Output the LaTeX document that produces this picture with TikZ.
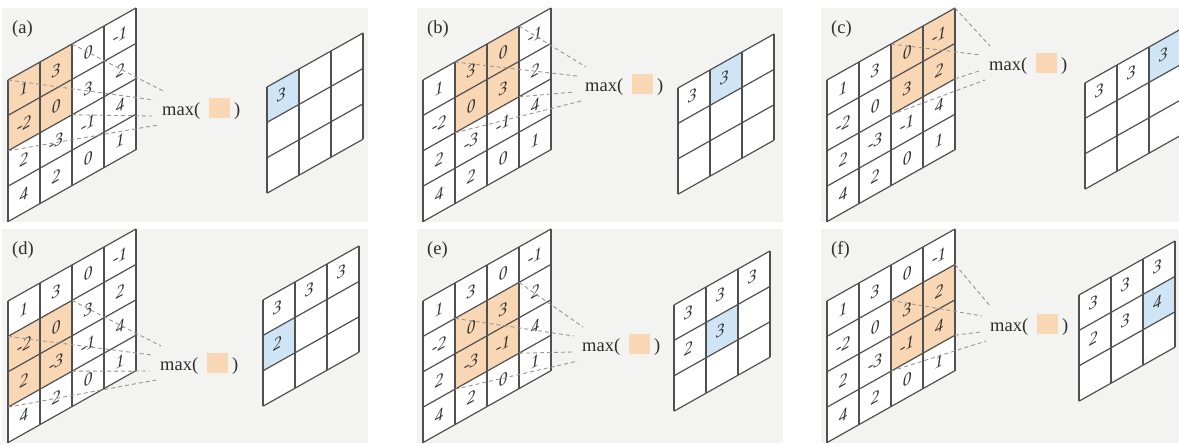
\documentclass[tikz,border=0pt]{standalone}
\usepackage{fontspec}
\setmainfont{Liberation Serif}
\usepackage{tikz}

\definecolor{panelgray}{RGB}{243,243,242}
\definecolor{linegray}{RGB}{80,80,80}
\definecolor{dashgray}{RGB}{150,150,150}
\definecolor{poolorange}{RGB}{250,215,180}
\definecolor{poolblue}{RGB}{207,229,246}
\definecolor{textgray}{RGB}{45,45,45}

\def\cellw{32}
\def\cellh{35.4}
\def\gridslant{0.5625}

\begin{document}
\begin{tikzpicture}[x=1pt, y=-1pt,
  grid line/.style={draw=linegray, line width=1.2pt},
  num/.style={font=\fontsize{17}{17}\selectfont\itshape, text=textgray, inner sep=0pt},
  pool line/.style={draw=dashgray, dash pattern=on 4pt off 3pt, line width=0.9pt},
  panel label/.style={font=\fontsize{18.5}{20}\selectfont, text=textgray, inner sep=0pt}]
\useasboundingbox (0,0) rectangle (1179,445);

% one panel per step of the 2x2 window
\foreach \n/\lab/\gx/\gy/\ox/\oy/\mx/\my in {
    0/a/8/80/267/87/162/108,
    1/b/423/80/678/88/585/84,
    2/c/827/80/1085/83/989/63,
    3/d/8/301/263/300/160/363,
    4/e/423/301/674/305/582/344,
    5/f/827/301/1079/295/990/324}
{
  \pgfmathtruncatemacro\wr{\n/3}
  \pgfmathtruncatemacro\wc{mod(\n,3)}

  \fill[panelgray] (\gx-6,\gy-72) rectangle (\gx+360,\gy+142);
  \node[panel label, anchor=west] (lab\lab) at (\gx+4,\gy-51) {(\lab)};

  % input map
  \begin{scope}[shift={(\gx,\gy)}, yslant=\gridslant, transform shape]
    \fill[white] (0,0) rectangle ({4*\cellw},{4*\cellh});
    \fill[poolorange] ({\wc*\cellw},{\wr*\cellh}) rectangle ({(\wc+2)*\cellw},{(\wr+2)*\cellh});
    \foreach \i in {0,...,4} {
      \draw[grid line] ({\i*\cellw},0) -- ({\i*\cellw},{4*\cellh});
      \draw[grid line] (0,{\i*\cellh}) -- ({4*\cellw},{\i*\cellh});
    }
    \foreach \row [count=\r from 0] in {{1,3,0,-1},{-2,0,3,2},{2,-3,-1,4},{4,2,0,1}}
      \foreach \v [count=\c from 0] in \row
        \node[num] (in\lab-\r-\c) at ({(\c+0.5)*\cellw},{(\r+0.5)*\cellh}) {\v};
    \coordinate (wtl\lab) at ({\wc*\cellw},{\wr*\cellh});
    \coordinate (wtr\lab) at ({(\wc+2)*\cellw},{\wr*\cellh});
    \coordinate (wbl\lab) at ({\wc*\cellw},{(\wr+2)*\cellh});
    \coordinate (wbr\lab) at ({(\wc+2)*\cellw},{(\wr+2)*\cellh});
  \end{scope}

  % max( ) and the lines into it
  \node[panel label, anchor=base west] (max\lab) at (\mx,\my+7)
    {max(\hspace{9pt}\textcolor{poolorange}{\rule[-3pt]{21pt}{20pt}}\hspace{4pt})};
  \coordinate (etr\lab) at (\mx+1,\my-17);
  \coordinate (etl\lab) at (\mx-8,\my-8);
  \coordinate (ebr\lab) at (\mx-10,\my+8);
  \coordinate (ebl\lab) at (\mx-4,\my+17);
  \draw[pool line] (wtr\lab) -- (etr\lab);
  \draw[pool line] (wtl\lab) -- (etl\lab);
  \draw[pool line] (wbr\lab) -- (ebr\lab);
  \draw[pool line] (wbl\lab) -- (ebl\lab);

  % output map
  \begin{scope}[shift={(\ox,\oy)}, yslant=\gridslant, transform shape]
    \fill[white] (0,0) rectangle ({3*\cellw},{3*\cellh});
    \foreach \v [count=\k from 0] in {3,3,3,2,3,4} {
      \ifnum\k>\n\relax\else
        \pgfmathtruncatemacro\orow{\k/3}
        \pgfmathtruncatemacro\ocol{mod(\k,3)}
        \ifnum\k=\n
          \fill[poolblue] ({\ocol*\cellw},{\orow*\cellh}) rectangle ({(\ocol+1)*\cellw},{(\orow+1)*\cellh});
        \fi
        \node[num] (out\lab-\k) at ({(\ocol+0.45)*\cellw},{(\orow+0.45)*\cellh}) {\v};
      \fi
    }
    \foreach \i in {0,...,3} {
      \draw[grid line] ({\i*\cellw},0) -- ({\i*\cellw},{3*\cellh});
      \draw[grid line] (0,{\i*\cellh}) -- ({3*\cellw},{\i*\cellh});
    }
  \end{scope}
}
\end{tikzpicture}
\end{document}
